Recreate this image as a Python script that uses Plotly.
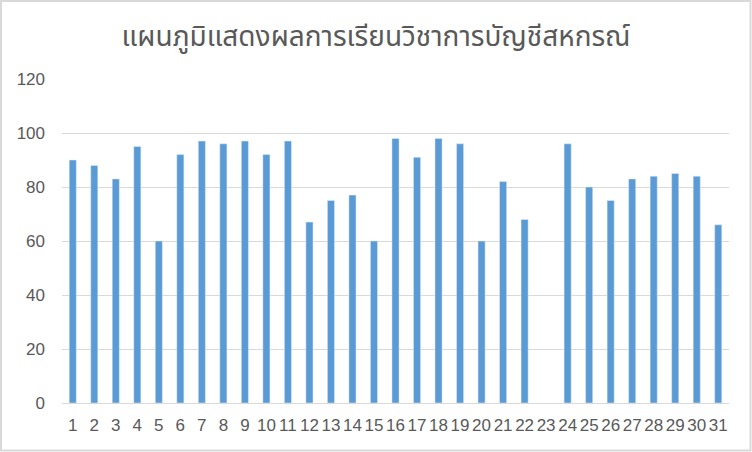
import plotly.graph_objects as go

categories = [str(i) for i in range(1, 32)]
scores = [90, 88, 83, 95, 60, 92, 97, 96, 97, 92, 97, 67, 75, 77, 60,
          98, 91, 98, 96, 60, 82, 68, None, 96, 80, 75, 83, 84, 85, 84, 66]
title_text = "แผนภูมิแสดงผลการเรียนวิชาการบัญชีสหกรณ์"
y_ticks = [0, 20, 40, 60, 80, 100, 120]

W, H = 752, 452
ml, mr, mt, mb = 62, 23, 79, 49
pw, ph = W - ml - mr, H - mt - mb

fig = go.Figure(go.Bar(x=categories, y=scores, marker_color="#5B9BD5"))

fig.update_layout(
    width=W, height=H,
    margin=dict(l=ml, r=mr, t=mt, b=mb),
    paper_bgcolor="white", plot_bgcolor="white",
    bargap=0.67,
    showlegend=False,
    title=dict(text=title_text, x=0.5, xanchor="center", y=1 - 36 / H, yanchor="middle",
               font=dict(family="Noto Sans Thai, Noto Sans, Liberation Sans, sans-serif", size=28,
                         color="#595959", weight=400)),
    font=dict(family="Liberation Sans, Arial, sans-serif", color="#595959"),
    xaxis=dict(type="category", tickangle=0, tickfont=dict(size=17, color="#595959"),
               showline=True, linecolor="#d9d9d9", linewidth=1, showgrid=False, ticks="",
               ticklabelstandoff=7),
    yaxis=dict(range=[0, 120], tickvals=y_ticks, tickfont=dict(size=17, color="#595959"),
               showgrid=True, gridcolor="#d9d9d9", gridwidth=1, zeroline=False, ticks="",
               ticklabelstandoff=16),
    shapes=[dict(type="rect", xref="paper", yref="paper",
                 x0=-(ml - 1) / pw, x1=(W - ml - 1.5) / pw,
                 y0=-(mb - 1.5) / ph, y1=1 + (mt - 1) / ph,
                 line=dict(color="#d9d9d9", width=2), fillcolor="rgba(0,0,0,0)", layer="below")],
)

fig.write_html("out.html", config={"displayModeBar": False},
               post_script="document.body.style.margin='0';document.body.style.overflow='hidden';")
